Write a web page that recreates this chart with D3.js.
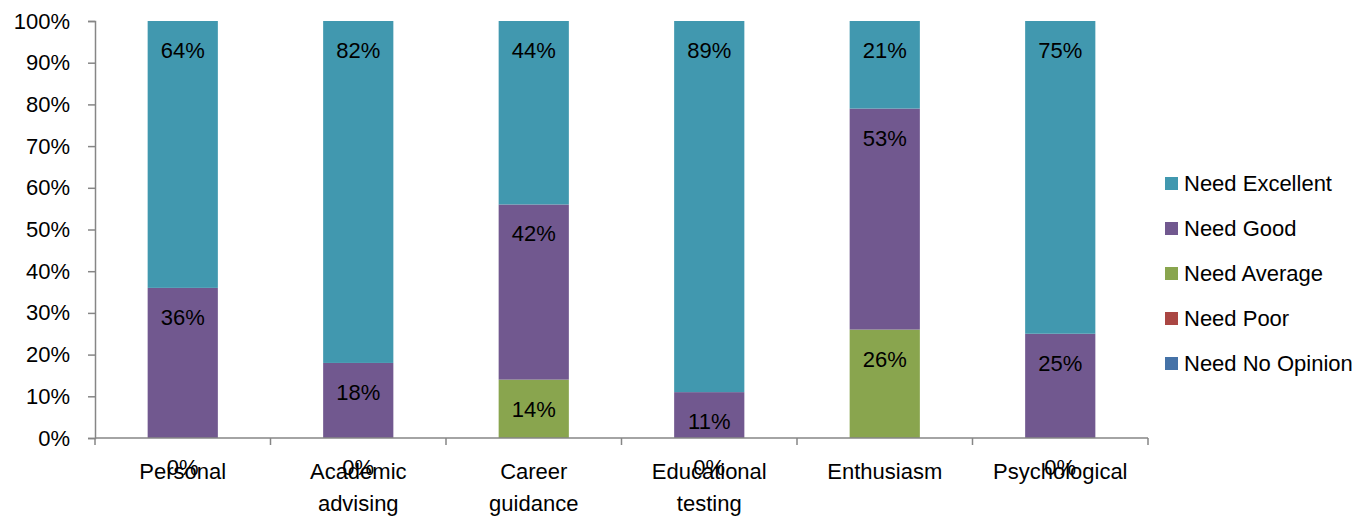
<!DOCTYPE html>
<html>
<head>
<meta charset="utf-8">
<script src="https://cdn.jsdelivr.net/npm/d3@7"></script>
<style>
  html, body { margin: 0; padding: 0; background: #fff; }
  svg { display: block; font-family: "Liberation Sans", Arial, sans-serif; }
</style>
</head>
<body>
<svg id="chart" width="1368" height="517"></svg>
<script>
// Survey responses per service area (share of respondents)
const categories = ["Personal", "Academic advising", "Career guidance", "Educational testing", "Enthusiasm", "Psychological"];
const seriesNames = ["Need No Opinion", "Need Poor", "Need Average", "Need Good", "Need Excellent"];
const needNoOpinion = [null, null, null, null, null, null];
const needPoor      = [null, null, null, null, null, null];
const needAverage   = [0, 0, 0.14, 0, 0.26, 0];
const needGood      = [0.36, 0.18, 0.42, 0.11, 0.53, 0.25];
const needExcellent = [0.64, 0.82, 0.44, 0.89, 0.21, 0.75];
const seriesColors  = ["#4572A7", "#AA4643", "#89A54E", "#71588F", "#4198AF"];
const yTicks = [0, 0.1, 0.2, 0.3, 0.4, 0.5, 0.6, 0.7, 0.8, 0.9, 1.0];

const seriesValues = [needNoOpinion, needPoor, needAverage, needGood, needExcellent];

const svg = d3.select("#chart");
const plot = { left: 95, right: 1148, top: 21, bottom: 438 };

const x = d3.scaleBand().domain(categories).range([plot.left, plot.right]).paddingInner(0.6).paddingOuter(0.3);
const y = d3.scaleLinear().domain([0, 1]).range([plot.bottom, plot.top]);
const fmt = d3.format(".0%");
const axisColor = "#868686";

// Stack the series bottom-up
const rows = categories.map((c, i) => {
  const r = { category: c };
  seriesNames.forEach((s, k) => { r[s] = seriesValues[k][i]; });
  return r;
});
const stacked = d3.stack().keys(seriesNames).value((d, k) => d[k] == null ? 0 : d[k])(rows);

const layers = svg.append("g").selectAll("g")
  .data(stacked).join("g")
  .attr("fill", (d, i) => seriesColors[i]);

layers.selectAll("rect")
  .data(d => d.map(p => ({ p, key: d.key })))
  .join("rect")
  .attr("x", d => x(d.p.data.category))
  .attr("width", x.bandwidth())
  .attr("y", d => y(d.p[1]))
  .attr("height", d => y(d.p[0]) - y(d.p[1]));

// Y axis
const yAxis = svg.append("g")
  .attr("transform", `translate(${plot.left},0)`)
  .call(d3.axisLeft(y).tickValues(yTicks).tickFormat(fmt).tickSize(7).tickPadding(18));
yAxis.select(".domain").attr("stroke", axisColor).attr("stroke-width", 1.5);
yAxis.selectAll(".tick line").attr("stroke", axisColor).attr("stroke-width", 1.5);
yAxis.selectAll(".tick text").attr("font-size", 22).attr("fill", "#000")
  .attr("font-family", "Liberation Sans, Arial, sans-serif");

// X axis with ticks at category boundaries
const xAxisG = svg.append("g").attr("transform", `translate(0,${plot.bottom})`);
xAxisG.append("line").attr("x1", plot.left).attr("x2", plot.right)
  .attr("stroke", axisColor).attr("stroke-width", 1.5);
d3.range(categories.length + 1).forEach(i => {
  const bx = plot.left + i * x.step();
  xAxisG.append("line").attr("x1", bx).attr("x2", bx).attr("y1", 0).attr("y2", 7)
    .attr("stroke", axisColor).attr("stroke-width", 1.5);
});

// Category labels, wrapped to fit under each bar
const wrapWidth = 135;
categories.forEach(c => {
  const cx = x(c) + x.bandwidth() / 2;
  const t = xAxisG.append("text")
    .attr("x", cx)
    .attr("y", 41)
    .attr("text-anchor", "middle")
    .attr("font-size", 22)
    .attr("fill", "#000");
  const words = c.split(" ");
  let line = [];
  let tspan = t.append("tspan").attr("x", cx).attr("dy", 0);
  words.forEach(w => {
    line.push(w);
    tspan.text(line.join(" "));
    if (tspan.node().getComputedTextLength() > wrapWidth && line.length > 1) {
      line.pop();
      tspan.text(line.join(" "));
      line = [w];
      tspan = t.append("tspan").attr("x", cx).attr("dy", 32).text(w);
    }
  });
});

// Value labels, placed just inside the top of each segment
const labelLayer = svg.append("g").attr("font-size", 22).attr("fill", "#000").attr("text-anchor", "middle");
stacked.forEach(layer => {
  layer.forEach(p => {
    const v = p.data[layer.key];
    if (v == null) return;
    labelLayer.append("text")
      .attr("x", x(p.data.category) + x.bandwidth() / 2)
      .attr("y", y(p[1]) + 37)
      .text(fmt(v));
  });
});

// Legend (top series listed first)
const legend = svg.append("g").attr("transform", "translate(1165,177)");
const legendOrder = seriesNames.map((s, i) => ({ s, c: seriesColors[i] })).reverse();
legendOrder.forEach((d, i) => {
  const g = legend.append("g").attr("transform", `translate(0,${i * 45})`);
  g.append("rect").attr("width", 13).attr("height", 13).attr("fill", d.c);
  g.append("text").attr("x", 19).attr("y", 6.5).attr("dy", "0.35em")
    .attr("font-size", 22).attr("fill", "#000").text(d.s);
});
</script>
</body>
</html>
